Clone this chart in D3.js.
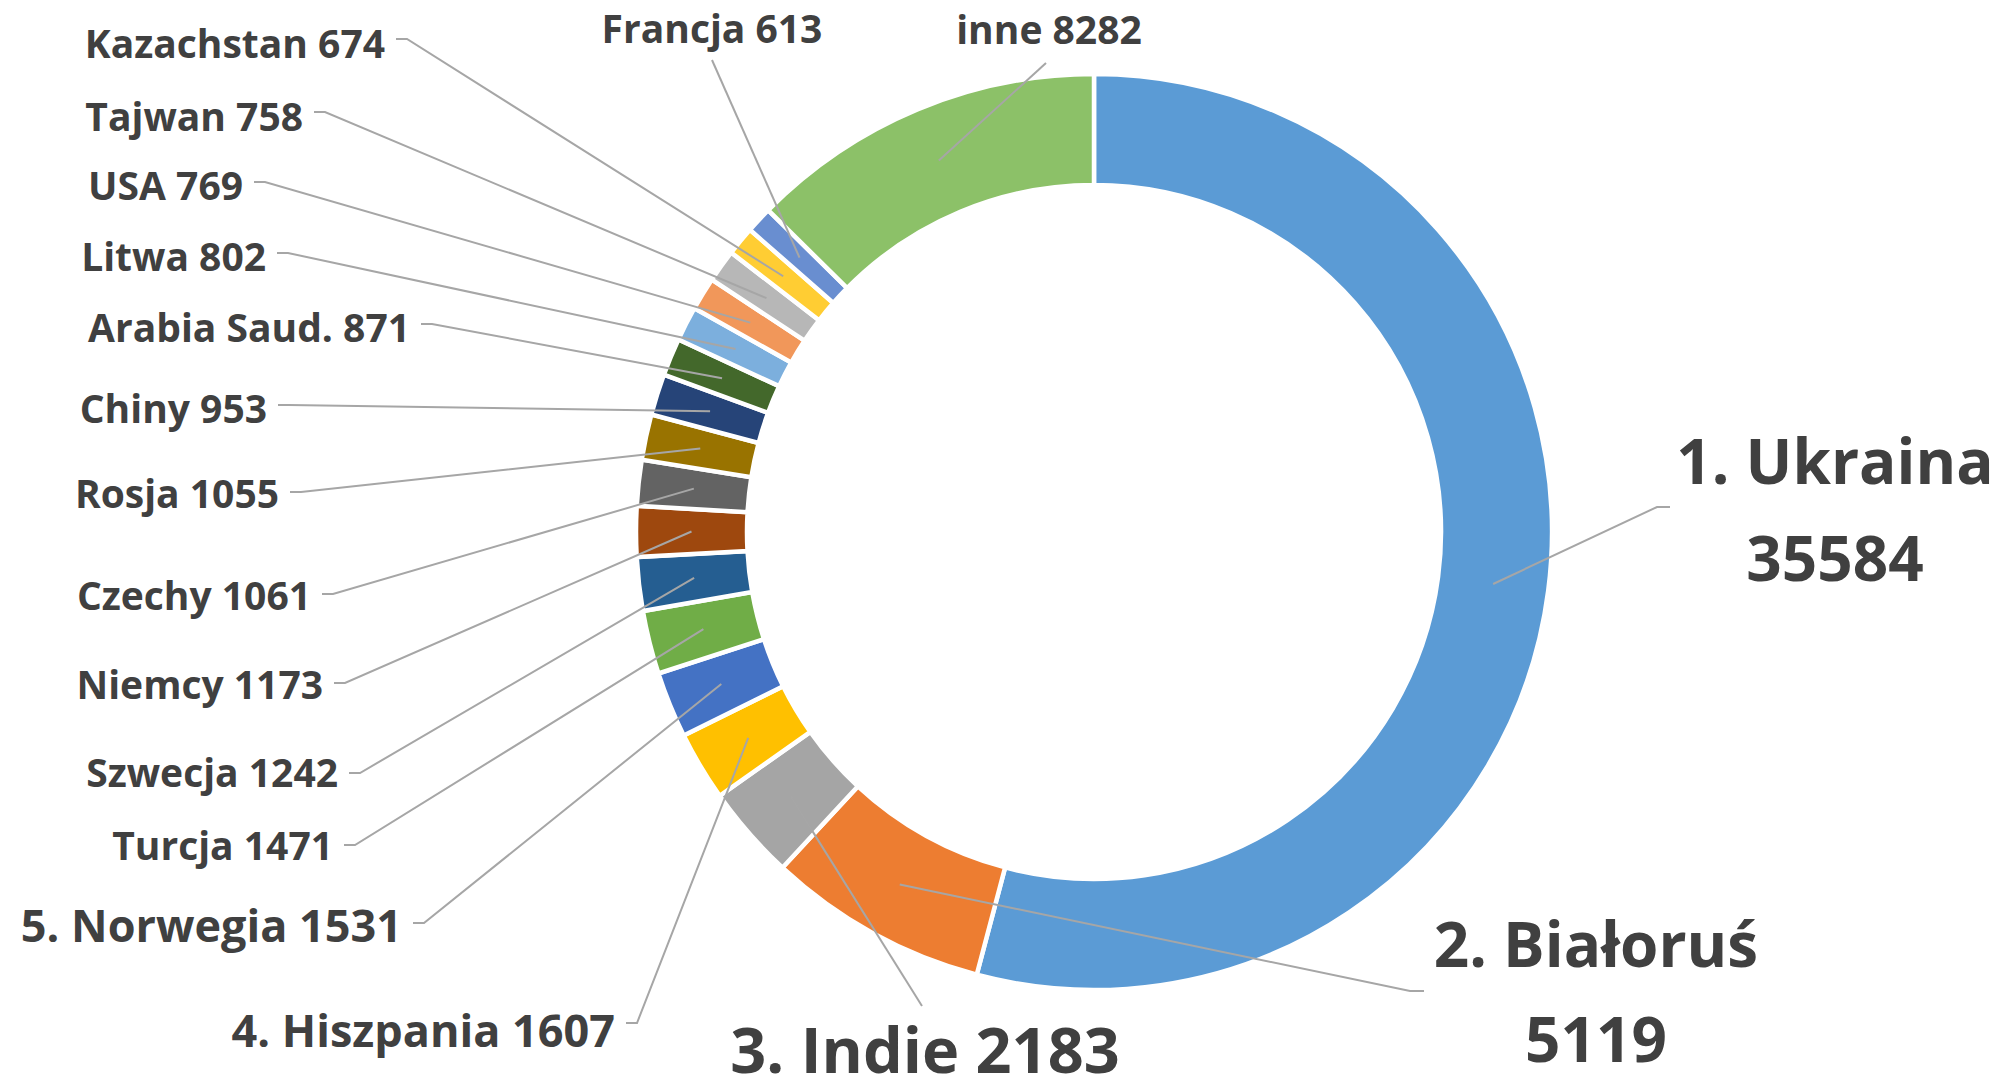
<!DOCTYPE html>
<html>
<head>
<meta charset="utf-8">
<script src="https://cdn.jsdelivr.net/npm/d3@7"></script>
<style>
  body { margin: 0; background: #fff; }
  text { font-family: "Open Sans", "Noto Sans", sans-serif; font-weight: 700; fill: #404040; }
</style>
</head>
<body>
<div id="chart"></div>
<script>
// data
const names = ["1. Ukraina", "2. Białoruś", "3. Indie", "4. Hiszpania", "5. Norwegia", "Turcja", "Szwecja",
    "Niemcy", "Czechy", "Rosja", "Chiny", "Arabia Saud.", "Litwa", "USA", "Tajwan", "Kazachstan", "Francja", "inne"];
const values = [35584, 5119, 2183, 1607, 1531, 1471, 1242, 1173, 1061, 1055, 953, 871, 802, 769, 758, 674, 613, 8282];
const colors = ["#5B9BD5", "#ED7D31", "#A5A5A5", "#FFC000", "#4472C4", "#70AD47", "#255E91", "#9E480E", "#636363",
    "#997300", "#264478", "#43682B", "#7CAFDD", "#F1975A", "#B7B7B7", "#FFCD33", "#698ED0", "#8CC168"];

// where Excel put each label (x, y = middle of the caps), same order as the data
let labelLayout = [
    {x: 1835, y: 462, anchor: "middle", size: 62, gap: 97, stub: [[1657, 507], [1670, 507]]},
    {x: 1596, y: 945, anchor: "middle", size: 62, gap: 95, stub: [[1410, 991], [1424, 991]]},
    {x: 925, y: 1051, anchor: "middle", size: 63, stub: [[922, 1006]]},
    {x: 615, y: 1031, anchor: "end", size: 45, ly: 1023},
    {x: 402, y: 926, anchor: "end", size: 45, ly: 923},
    {x: 333, y: 846, anchor: "end", size: 39, ly: 845},
    {x: 338, y: 773, anchor: "end", size: 39, ly: 773},
    {x: 323, y: 685, anchor: "end", size: 39, ly: 683},
    {x: 311, y: 596, anchor: "end", size: 39, ly: 594},
    {x: 279, y: 494, anchor: "end", size: 39, ly: 492},
    {x: 267, y: 409, anchor: "end", size: 39, ly: 405},
    {x: 410, y: 328, anchor: "end", size: 39, ly: 324},
    {x: 266, y: 257, anchor: "end", size: 39, ly: 253},
    {x: 243, y: 186, anchor: "end", size: 39, ly: 182},
    {x: 303, y: 117, anchor: "end", size: 39, ly: 112},
    {x: 385, y: 44, anchor: "end", size: 39, ly: 39},
    {x: 712, y: 29, anchor: "middle", size: 39, stub: [[712, 60]]},
    {x: 1049, y: 30, anchor: "middle", size: 39, stub: [[1046, 63]]}
];

let width = 2000, height = 1087;
let cx = 1094, cy = 532;
let outerR = 458, innerR = 347;

let svg = d3.select("#chart")
    .append("svg")
    .attr("width", width)
    .attr("height", height);

let g = svg.append("g")
    .attr("transform", "translate(" + cx + "," + cy + ")");

let dataset = names.map(function(n, i) {
    return {name: n, value: values[i], color: colors[i], layout: labelLayout[i]};
});

let pie = d3.pie()
    .sort(null)
    .value(function(d) { return d.value; });

let arc = d3.arc()
    .innerRadius(innerR)
    .outerRadius(outerR);

let arcs = pie(dataset);

g.selectAll("path.slice")
    .data(arcs)
    .enter().append("path")
    .attr("class", "slice")
    .attr("d", arc)
    .attr("fill", function(d) { return d.data.color; })
    .attr("stroke", "#fff")
    .attr("stroke-width", 4.5);

// leader lines, from the middle of each slice to its label
let line = d3.line();

svg.append("g")
    .selectAll("path")
    .data(arcs)
    .enter().append("path")
    .attr("fill", "none")
    .attr("stroke", "#A6A6A6")
    .attr("stroke-width", 2)
    .attr("d", function(d) {
        let c = arc.centroid(d);
        let pts = [[c[0] + cx, c[1] + cy]];
        let l = d.data.layout;
        if (l.stub) {
            pts = pts.concat(l.stub);
        } else {
            pts.push([l.x + 22, l.ly], [l.x + 11, l.ly]);
        }
        return line(pts);
    });

// labels
let labels = svg.append("g")
    .selectAll("text")
    .data(dataset)
    .enter().append("text")
    .attr("text-anchor", function(d) { return d.layout.anchor; })
    .attr("font-size", function(d) { return d.layout.size; });

labels.each(function(d) {
    let t = d3.select(this);
    let l = d.layout;
    let lines = l.gap ? [d.name, String(d.value)] : [d.name + " " + d.value];
    lines.forEach(function(s, i) {
        t.append("tspan")
            .attr("x", l.x)
            .attr("y", l.y + i * (l.gap || 0) + 0.357 * l.size)
            .text(s);
    });
});
</script>
</body>
</html>
